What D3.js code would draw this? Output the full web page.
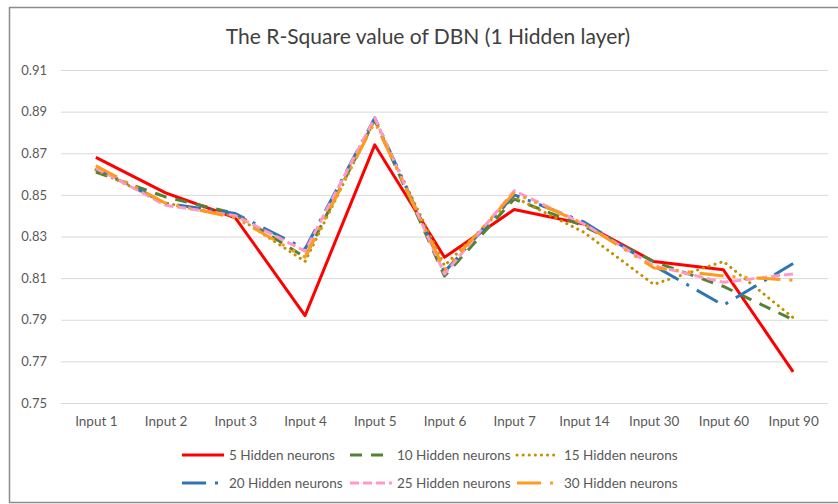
<!DOCTYPE html>
<html>
<head>
<meta charset="utf-8">
<script src="https://cdn.jsdelivr.net/npm/d3@7"></script>
<style>
  html, body { margin: 0; padding: 0; background: #fff; }
  svg { display: block; font-family: Lato, "Open Sans", sans-serif; }
</style>
</head>
<body>
<div id="chart"></div>
<script>
/* R-Square of DBN, one hidden layer — line chart */

const categories = ['Input 1', 'Input 2', 'Input 3', 'Input 4', 'Input 5', 'Input 6',
  'Input 7', 'Input 14', 'Input 30', 'Input 60', 'Input 90'];

const yTicks = [0.75, 0.77, 0.79, 0.81, 0.83, 0.85, 0.87, 0.89, 0.91];

const seriesNames = ['5 Hidden neurons', '10 Hidden neurons', '15 Hidden neurons',
  '20 Hidden neurons', '25 Hidden neurons', '30 Hidden neurons'];

const h5  = [0.868, 0.851, 0.839, 0.792, 0.874, 0.820, 0.843, 0.836, 0.818, 0.814, 0.765];
const h10 = [0.861, 0.849, 0.841, 0.820, 0.886, 0.811, 0.848, 0.835, 0.818, 0.806, 0.790];
const h15 = [0.862, 0.846, 0.840, 0.818, 0.886, 0.816, 0.849, 0.832, 0.807, 0.818, 0.791];
const h20 = [0.863, 0.846, 0.841, 0.824, 0.887, 0.813, 0.850, 0.837, 0.816, 0.797, 0.817];
const h25 = [0.863, 0.845, 0.840, 0.823, 0.887, 0.812, 0.852, 0.836, 0.816, 0.808, 0.812];
const h30 = [0.864, 0.846, 0.839, 0.820, 0.885, 0.814, 0.851, 0.836, 0.815, 0.811, 0.809];

const seriesValues = [h5, h10, h15, h20, h25, h30];

// line styles, in series order
const styles = [
  { color: '#ff0000', dash: null,                  cap: 'butt'  },
  { color: '#548235', dash: '12,9',                cap: 'butt'  },
  { color: '#bf9000', dash: '0.1,6',               cap: 'round' },
  { color: '#2e75b6', dash: '24,9,3,9',            cap: 'butt'  },
  { color: '#ff99cc', dash: '9,4',                 cap: 'butt'  },
  { color: '#ff9a1a', dash: '24,9,3,9,3,9',        cap: 'butt'  }
];

const width = 838, height = 504;
const plot = { left: 61, right: 828, top: 70, bottom: 403 };

const svg = d3.select('#chart').append('svg')
  .attr('width', width)
  .attr('height', height);

svg.append('rect')
  .attr('width', width).attr('height', height)
  .attr('fill', '#fff');

// chart frame
svg.append('rect')
  .attr('x', 9.5).attr('y', 7.5)
  .attr('width', 860).attr('height', 495)
  .attr('fill', 'none')
  .attr('stroke', '#8c8c8c')
  .attr('stroke-width', 1.5);

const x = d3.scalePoint()
  .domain(categories)
  .range([plot.left, plot.right])
  .padding(0.5);

const y = d3.scaleLinear()
  .domain([0.75, 0.91])
  .range([plot.bottom, plot.top]);

// Title
svg.append('text')
  .attr('x', 428).attr('y', 44)
  .attr('text-anchor', 'middle')
  .style('font-size', '21px')
  .style('fill', '#404040')
  .text('The R-Square value of DBN (1 Hidden layer)');

// Gridlines + y labels
const yAxis = d3.axisLeft(y)
  .tickValues(yTicks)
  .tickSize(-(plot.right - plot.left))
  .tickPadding(14)
  .tickFormat(d3.format('.2f'));

svg.append('g')
  .attr('transform', `translate(${plot.left},0)`)
  .call(yAxis)
  .call(g => g.select('.domain').remove())
  .call(g => g.selectAll('.tick line').attr('stroke', '#d9d9d9').attr('stroke-width', 1))
  .call(g => g.selectAll('.tick text')
    .style('font-size', '13px')
    .style('fill', '#595959')
    .style('font-family', 'Lato, sans-serif'));

// x labels
const xAxis = d3.axisBottom(x).tickSize(0).tickPadding(13);

svg.append('g')
  .attr('transform', `translate(0,${plot.bottom})`)
  .call(xAxis)
  .call(g => g.select('.domain').remove())
  .call(g => g.selectAll('.tick text')
    .style('font-size', '13.5px')
    .style('fill', '#595959')
    .style('font-family', 'Lato, sans-serif'));

// Lines
const line = d3.line()
  .x((d, i) => x(categories[i]))
  .y(d => y(d));

svg.append('g')
  .selectAll('path')
  .data(seriesValues)
  .join('path')
  .attr('d', d => line(d))
  .attr('fill', 'none')
  .attr('stroke', (d, i) => styles[i].color)
  .attr('stroke-width', 3)
  .attr('stroke-linejoin', 'round')
  .attr('stroke-linecap', (d, i) => styles[i].cap)
  .attr('stroke-dasharray', (d, i) => styles[i].dash);

// Legend (2 rows x 3 columns)
const legendCols = [182, 350, 517];
const legendRows = [455, 483];

const items = svg.append('g')
  .selectAll('g')
  .data(seriesNames)
  .join('g')
  .attr('transform', (d, i) => `translate(${legendCols[i % 3]},${legendRows[Math.floor(i / 3)]})`);

items.append('line')
  .attr('x1', 0).attr('x2', 42)
  .attr('stroke', (d, i) => styles[i].color)
  .attr('stroke-width', 3)
  .attr('stroke-linecap', (d, i) => styles[i].cap)
  .attr('stroke-dasharray', (d, i) => styles[i].dash);

items.append('text')
  .attr('x', 47)
  .attr('dy', '0.35em')
  .style('font-size', '13.5px')
  .style('fill', '#595959')
  .text(d => d);
</script>
</body>
</html>
